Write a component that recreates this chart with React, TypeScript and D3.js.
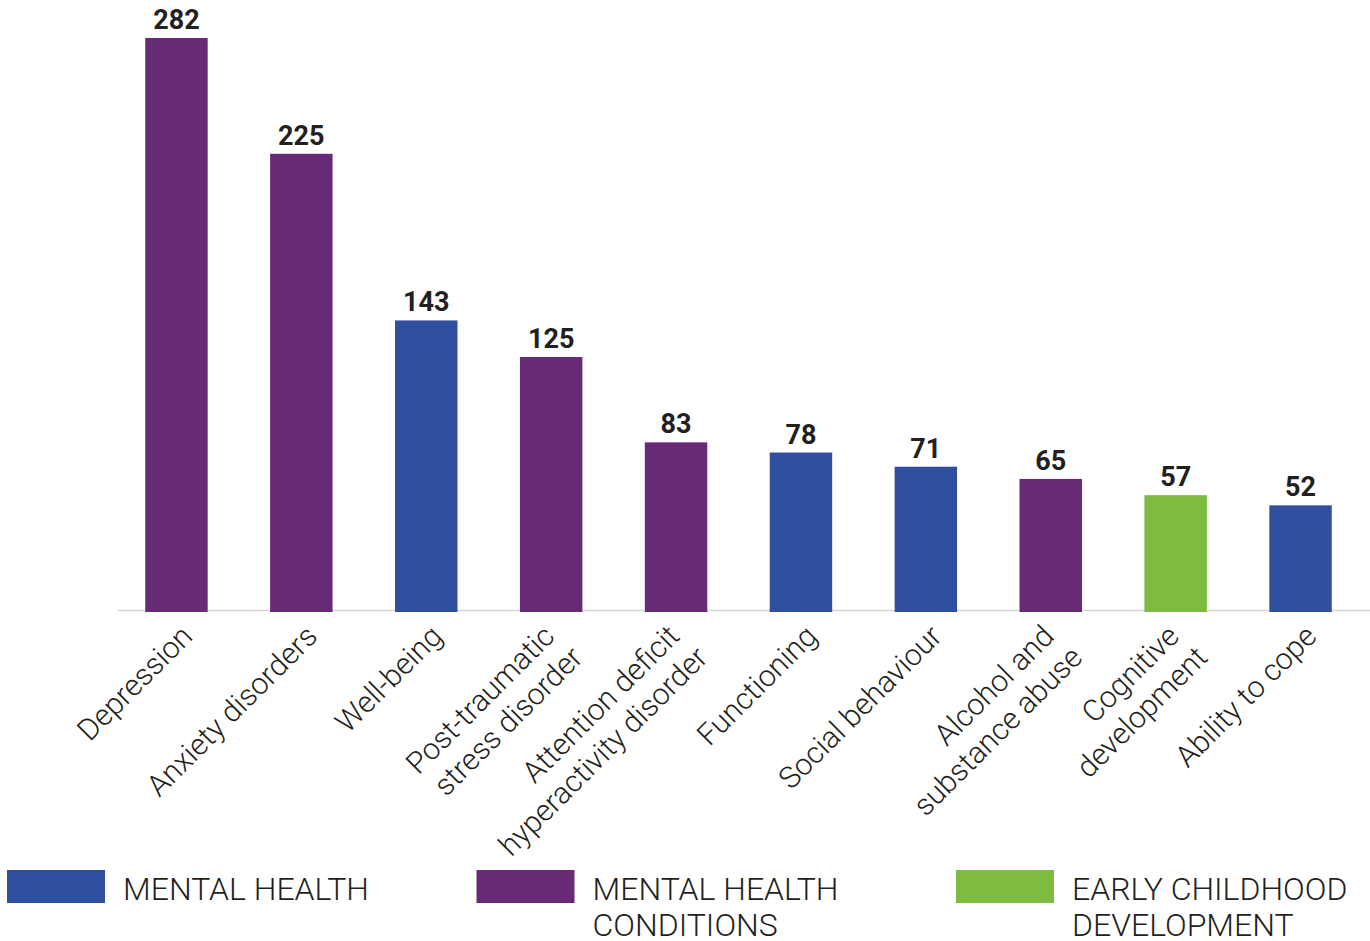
import React, { useEffect } from "react";
import * as d3 from "d3";

const categories = [
  "Depression",
  "Anxiety disorders",
  "Well-being",
  "Post-traumatic stress disorder",
  "Attention deficit hyperactivity disorder",
  "Functioning",
  "Social behaviour",
  "Alcohol and substance abuse",
  "Cognitive development",
  "Ability to cope",
];
const labelLines = [
  ["Depression"],
  ["Anxiety disorders"],
  ["Well-being"],
  ["Post-traumatic", "stress disorder"],
  ["Attention deficit", "hyperactivity disorder"],
  ["Functioning"],
  ["Social behaviour"],
  ["Alcohol and", "substance abuse"],
  ["Cognitive", "development"],
  ["Ability to cope"],
];
const values = [282, 225, 143, 125, 83, 78, 71, 65, 57, 52];
const groups = ["MHC", "MHC", "MH", "MHC", "MHC", "MH", "MH", "MHC", "ECD", "MH"];

const legendKeys = ["MH", "MHC", "ECD"];
const legendLabels = [["MENTAL HEALTH"], ["MENTAL HEALTH", "CONDITIONS"], ["EARLY CHILDHOOD", "DEVELOPMENT"]];
const groupColors = ["#314f9f", "#672a74", "#7dbc41"];

const W = 1370;
const H = 941;
const baseY = 611;
const textColor = "#231f20";
const font = "Roboto, 'Liberation Sans', Arial, sans-serif";

export default function App() {
  useEffect(() => {
    document.body.style.margin = "0";
  }, []);

  const x = d3.scaleBand<string>().domain(categories).range([114, 1363]).paddingInner(0.5).paddingOuter(0.25);
  const y = d3.scaleLinear().domain([0, 300]).range([baseY, 1.4]);
  const color = d3.scaleOrdinal<string, string>().domain(legendKeys).range(groupColors);
  const legendX = d3.scalePoint<string>().domain(legendKeys).range([7, 956]);

  return (
    <svg width={W} height={H} style={{ display: "block", background: "#fff" }} fontFamily={font}>
      <line x1={118} x2={1370} y1={baseY - 0.5} y2={baseY - 0.5} stroke="#d6d6d6" strokeWidth={1.5} />
      {categories.map((c, i) => {
        const bx = x(c) as number;
        const bw = x.bandwidth();
        const top = y(values[i]);
        const lines = labelLines[i];
        const multi = lines.length > 1;
        return (
          <g key={c}>
            <rect x={bx} y={top} width={bw} height={baseY + 1 - top} fill={color(groups[i])} />
            <text
              x={bx + bw / 2}
              y={top - 9}
              textAnchor="middle"
              fontSize={27}
              fontWeight={700}
              fill={textColor}
            >
              {values[i]}
            </text>
            <g transform={`translate(${bx + bw / 2 + 10},${baseY + 15}) rotate(-45)`}>
              {lines.map((ln, j) => (
                <text
                  key={j}
                  x={multi ? -12 + j * 5 : -3}
                  y={multi ? 5 + j * 35 : 14}
                  textAnchor="end"
                  fontSize={30}
                  fontWeight={300}
                  fill={textColor}
                >
                  {ln}
                </text>
              ))}
            </g>
          </g>
        );
      })}
      {legendKeys.map((k, i) => {
        const lx = (legendX(k) as number) + (i === 1 ? -5 : 0);
        return (
          <g key={k}>
            <rect x={lx} y={870} width={98} height={33} fill={color(k)} />
            {legendLabels[i].map((ln, j) => (
              <text
                key={j}
                x={lx + 116}
                y={900 + j * 36}
                fontSize={32}
                fontWeight={300}
                fill={textColor}
              >
                {ln}
              </text>
            ))}
          </g>
        );
      })}
    </svg>
  );
}
